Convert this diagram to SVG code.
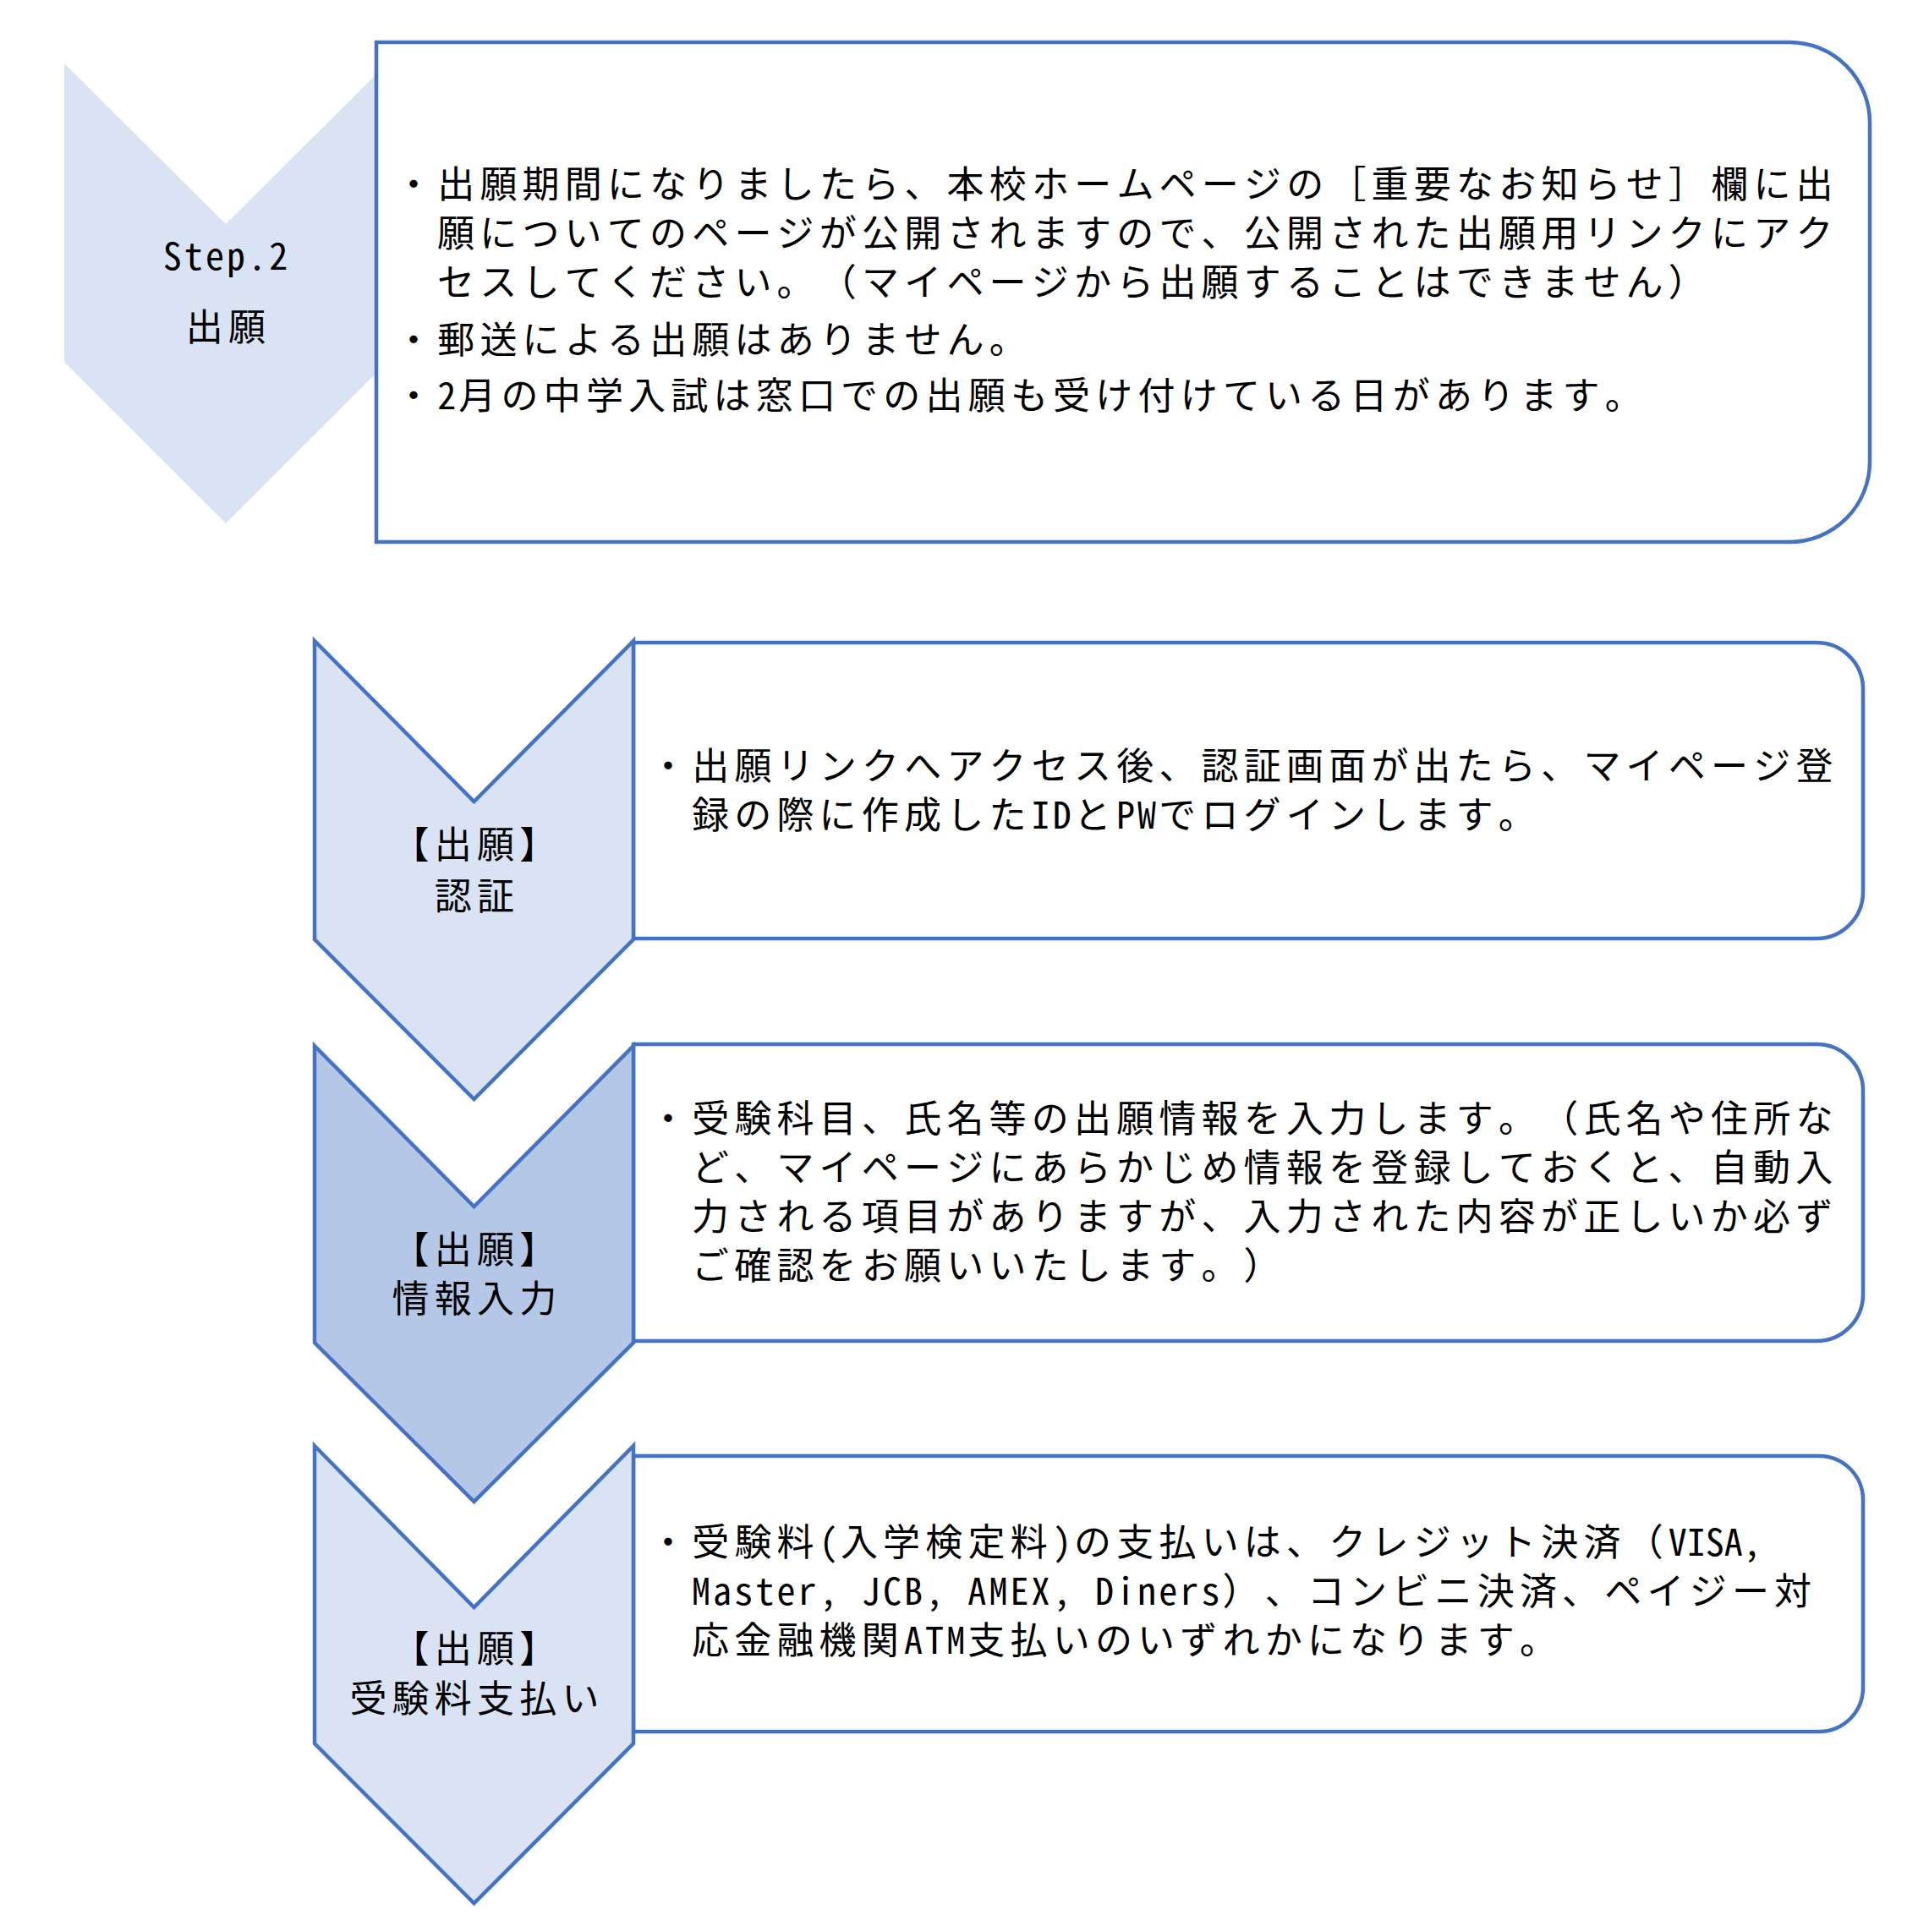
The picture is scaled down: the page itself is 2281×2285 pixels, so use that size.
<svg xmlns="http://www.w3.org/2000/svg" width="2281" height="2285" viewBox="0 0 2281 2285">
<style>
.bg{fill:#ffffff}
.chev{fill:#DAE3F3;stroke:#4472C4;stroke-width:4.5;stroke-linejoin:miter}
.chev1{fill:#DAE3F3;stroke:none}
.chevd{fill:#B4C7E7;stroke:#4472C4;stroke-width:4.5;stroke-linejoin:miter}
.box{fill:#ffffff;stroke:#4472C4;stroke-width:4.5}
text{font-family:'Noto Sans Mono CJK JP','Noto Sans CJK JP',sans-serif;font-size:44px;fill:#000000;letter-spacing:6.2px;text-spacing-trim:space-all;font-kerning:none}
.lat{letter-spacing:3.1px}
.lat0{letter-spacing:0px}
.lbl{text-anchor:middle}
</style>
<rect class="bg" x="0" y="0" width="2281" height="2285"/>
<g id="connectors"></g>
<g id="node-step2">
<path class="chev1" d="M76,75 L267,265 L458,75 L458,428 L267,619 L76,428 Z"/>
<path class="box" d="M445,50 H2116 A95,95 0 0 1 2211,145 V546 A95,95 0 0 1 2116,641 H445 Z"/>
<text class="lbl" x="268" y="319"><tspan class="lat">Step.2</tspan></text>
<text class="lbl" x="270" y="403">出願</text>
<text x="467" y="234">・出願期間になりましたら、本校ホームページの［重要なお知らせ］欄に出</text>
<text x="517" y="292">願についてのページが公開されますので、公開された出願用リンクにアク</text>
<text x="517" y="350">セスしてください。（マイページから出願することはできません）</text>
<text x="467" y="418">・郵送による出願はありません。</text>
<text x="467" y="484">・<tspan class="lat">2</tspan>月の中学入試は窓口での出願も受け付けている日があります。</text>
</g>
<g id="node-auth">
<path class="box" d="M749,760 H2148 A55,55 0 0 1 2203,815 V1055 A55,55 0 0 1 2148,1110 H749 Z"/>
<path class="chev" d="M372,758 L560.5,948 L749,758 L749,1111 L560.5,1300 L372,1111 Z"/>
<text class="lbl" x="564" y="1015">【出願】</text>
<text class="lbl" x="564" y="1076">認証</text>
<text x="768" y="922">・出願リンクへアクセス後、認証画面が出たら、マイページ登</text>
<text x="818" y="980">録の際に作成した<tspan class="lat">ID</tspan>と<tspan class="lat">PW</tspan>でログインします。</text>
</g>
<g id="node-info">
<path class="box" d="M749,1235 H2148 A55,55 0 0 1 2203,1290 V1531 A55,55 0 0 1 2148,1586 H749 Z"/>
<path class="chevd" d="M372,1237 L560.5,1427 L749,1237 L749,1588 L560.5,1776 L372,1588 Z"/>
<text class="lbl" x="564" y="1494">【出願】</text>
<text class="lbl" x="564" y="1552">情報入力</text>
<text x="768" y="1339">・受験科目、氏名等の出願情報を入力します。（氏名や住所な</text>
<text x="818" y="1397">ど、マイページにあらかじめ情報を登録しておくと、自動入</text>
<text x="818" y="1455">力される項目がありますが、入力された内容が正しいか必ず</text>
<text x="818" y="1513">ご確認をお願いいたします。）</text>
</g>
<g id="node-payment">
<path class="box" d="M749,1722 H2151 A52,52 0 0 1 2203,1774 V1996 A52,52 0 0 1 2151,2048 H749 Z"/>
<path class="chev" d="M372,1710 L560.5,1901 L749,1710 L749,2062 L560.5,2251 L372,2062 Z"/>
<text class="lbl" x="564" y="1966">【出願】</text>
<text class="lbl" x="564" y="2025">受験料支払い</text>
<text x="768" y="1840">・受験料<tspan class="lat">(</tspan>入学検定料<tspan class="lat">)</tspan>の支払いは、クレジット決済（<tspan class="lat0">VISA,</tspan></text>
<text x="818" y="1898"><tspan class="lat">Master, JCB, AMEX, Diners</tspan>）、コンビニ決済、ペイジー対</text>
<text x="818" y="1956">応金融機関<tspan class="lat">ATM</tspan>支払いのいずれかになります。</text>
</g>
</svg>
